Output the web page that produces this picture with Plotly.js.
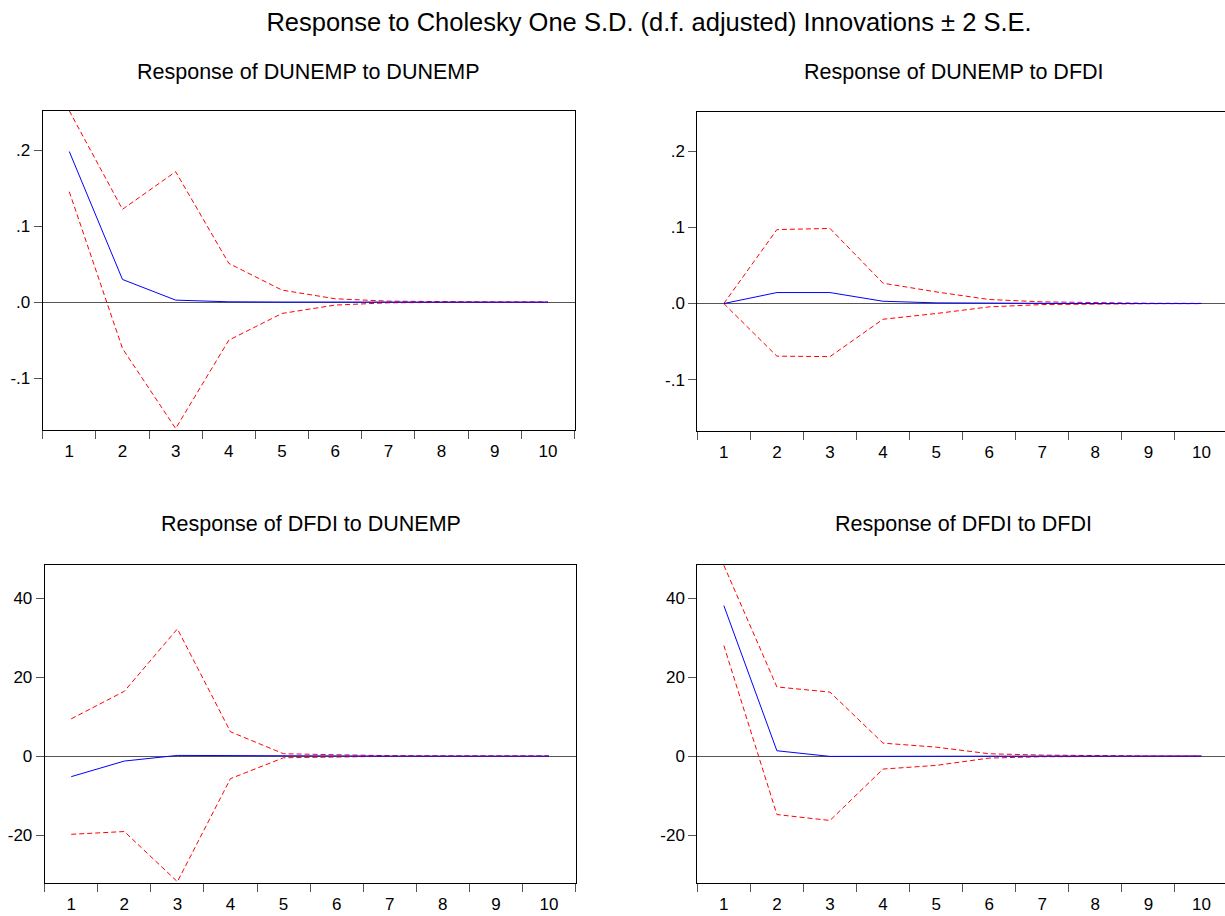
<!DOCTYPE html>
<html>
<head>
<meta charset="utf-8">
<script src="https://cdn.plot.ly/plotly-3.0.1.min.js"></script>
<style>
html, body { margin: 0; padding: 0; overflow: hidden; background: #fff; }
#chart { width: 1229px; height: 916px; }
</style>
</head>
<body>
<div id="chart"></div>
<script>
// Periods
const periods = ['1','2','3','4','5','6','7','8','9','10'];

// Response of DUNEMP to DUNEMP
const unempUnemp = [0.198, 0.0298, 0.0026, 0.0004, 0.0001, 0, 0, 0, 0, 0];
const unempUnempUp = [0.2515, 0.122, 0.1715, 0.0509, 0.0158, 0.0044, 0.0013, 0.0004, 0.0001, 0.0];
const unempUnempLo = [0.1452, -0.061, -0.1662, -0.050, -0.0149, -0.0039, -0.0009, -0.0002, 0, 0];

// Response of DUNEMP to DFDI
const unempFdi = [0, 0.0144, 0.0144, 0.003, 0.0009, 0.0003, 0.0001, 0, 0, 0];
const unempFdiUp = [0, 0.097, 0.0985, 0.0267, 0.0153, 0.0053, 0.0022, 0.0009, 0.0004, 0.0002];
const unempFdiLo = [0, -0.069, -0.0696, -0.0206, -0.0131, -0.0044, -0.0013, -0.0005, -0.0002, -0.0001];

// Response of DFDI to DUNEMP
const fdiUnemp = [-5.2, -1.26, 0.17, 0.08, 0.02, 0, 0, 0, 0, 0];
const fdiUnempUp = [9.43, 16.4, 32.2, 6.15, 0.59, 0.25, 0.1, 0.04, 0.01, 0];
const fdiUnempLo = [-19.8, -19.1, -31.8, -5.7, -0.42, -0.17, -0.05, -0.02, 0, 0];

// Response of DFDI to DFDI
const fdiFdi = [38.1, 1.35, -0.08, -0.02, 0.01, 0, 0, 0, 0, 0];
const fdiFdiUp = [48.3, 17.5, 16.2, 3.28, 2.27, 0.59, 0.25, 0.08, 0.03, 0.01];
const fdiFdiLo = [28.0, -14.8, -16.3, -3.28, -2.36, -0.5, -0.17, -0.05, -0.02, 0];

// Tick labels
const unempTickVals = [-0.1, 0, 0.1, 0.2];
const unempTickText = ['-.1', '.0', '.1', '.2'];
const fdiTickVals = [-20, 0, 20, 40];
const fdiTickText = ['-20', '0', '20', '40'];

const panelTitles = [
  'Response of DUNEMP to DUNEMP',
  'Response of DUNEMP to DFDI',
  'Response of DFDI to DUNEMP',
  'Response of DFDI to DFDI'
];
const mainTitle = 'Response to Cholesky One S.D. (d.f. adjusted) Innovations \u00b1 2 S.E.';

const W = 1229, H = 916;
const FONT = 'Arial, "Liberation Sans", sans-serif';

const panels = [
  {resp: unempUnemp, up: unempUnempUp, lo: unempUnempLo, x0: 42.7, x1: 574.5, y0: 111, y1: 429.5, range: [-0.1675, 0.2513], tv: unempTickVals, tt: unempTickText, tx: 308, ty: 72},
  {resp: unempFdi, up: unempFdiUp, lo: unempFdiLo, x0: 697.3, x1: 1228, y0: 112, y1: 430.5, range: [-0.1665, 0.2512], tv: unempTickVals, tt: unempTickText, tx: 954, ty: 72},
  {resp: fdiUnemp, up: fdiUnempUp, lo: fdiUnempLo, x0: 44.7, x1: 575.5, y0: 564.5, y1: 882.5, range: [-32.0, 48.5], tv: fdiTickVals, tt: fdiTickText, tx: 311, ty: 524},
  {resp: fdiFdi, up: fdiFdiUp, lo: fdiFdiLo, x0: 697.3, x1: 1228, y0: 564.5, y1: 882.5, range: [-32.0, 48.5], tv: fdiTickVals, tt: fdiTickText, tx: 963, ty: 524}
];

const data = [];
const layout = {
  width: W, height: H,
  margin: {l: 0, r: 0, t: 0, b: 0},
  paper_bgcolor: '#fff', plot_bgcolor: '#fff',
  showlegend: false,
  font: {family: FONT, size: 17, color: '#000'},
  title: {text: mainTitle, x: 649 / W, xanchor: 'center', y: 1 - 22 / H, yanchor: 'middle', font: {family: FONT, size: 25.5, color: '#000'}},
  annotations: []
};

panels.forEach((p, i) => {
  const n = i + 1;
  const xa = 'x' + (n === 1 ? '' : n), ya = 'y' + (n === 1 ? '' : n);
  const red = {color: '#FF0000', width: 1, dash: '5px,3px'};
  data.push({x: periods, y: p.up, xaxis: xa, yaxis: ya, type: 'scatter', mode: 'lines', line: red, hoverinfo: 'skip'});
  data.push({x: periods, y: p.lo, xaxis: xa, yaxis: ya, type: 'scatter', mode: 'lines', line: red, hoverinfo: 'skip'});
  data.push({x: periods, y: p.resp, xaxis: xa, yaxis: ya, type: 'scatter', mode: 'lines', line: {color: '#0000FF', width: 1}, hoverinfo: 'skip'});

  layout['xaxis' + (n === 1 ? '' : n)] = {
    domain: [p.x0 / W, p.x1 / W],
    anchor: ya,
    type: 'category',
    range: [-0.5, 9.5],
    tickson: 'boundaries',
    ticks: 'outside', ticklen: 8, tickwidth: 1, tickcolor: '#555',
    ticklabelstandoff: 6,
    showline: true, mirror: true, linecolor: '#000', linewidth: 1,
    showgrid: false, zeroline: false,
    tickfont: {family: FONT, size: 17, color: '#000'},
    automargin: false, fixedrange: true
  };
  layout['yaxis' + (n === 1 ? '' : n)] = {
    domain: [1 - p.y1 / H, 1 - p.y0 / H],
    anchor: xa,
    range: p.range,
    tickmode: 'array', tickvals: p.tv, ticktext: p.tt,
    ticks: 'outside', ticklen: 8, tickwidth: 1, tickcolor: '#555',
    showline: true, mirror: true, linecolor: '#000', linewidth: 1,
    showgrid: false,
    zeroline: true, zerolinecolor: '#555', zerolinewidth: 1,
    tickfont: {family: FONT, size: 17, color: '#000'},
    automargin: false, fixedrange: true
  };
  layout.annotations.push({
    text: panelTitles[i], xref: 'paper', yref: 'paper',
    x: p.tx / W, y: 1 - p.ty / H, xanchor: 'center', yanchor: 'middle',
    showarrow: false, font: {family: FONT, size: 21.5, color: '#000'}
  });
});

Plotly.newPlot('chart', data, layout, {displayModeBar: false, staticPlot: true});
</script>
</body>
</html>
